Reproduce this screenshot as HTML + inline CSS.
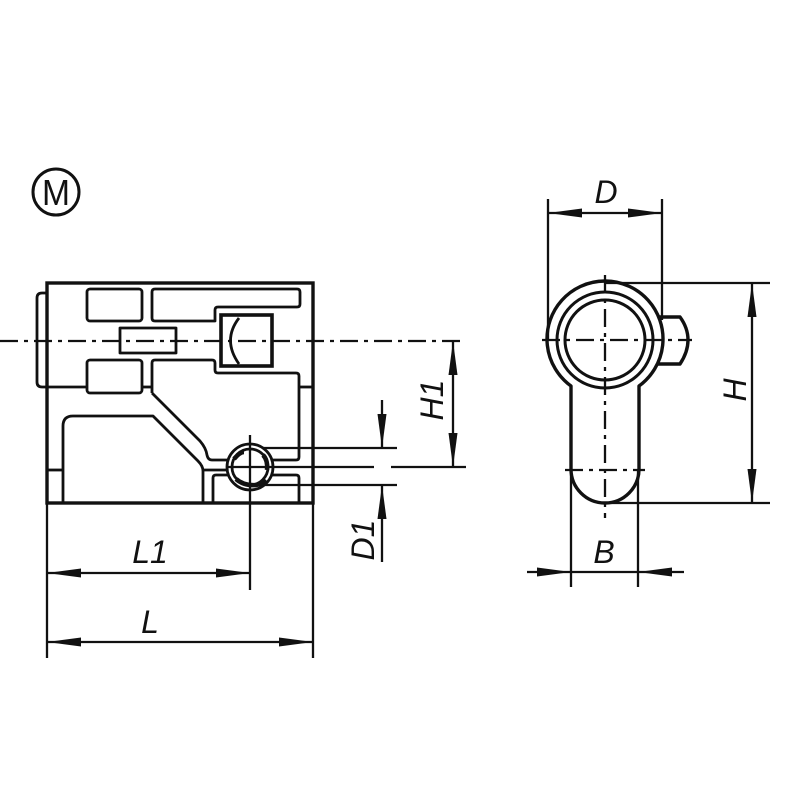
<!DOCTYPE html>
<html><head><style>
html,body{margin:0;padding:0;background:#fff;}
svg{display:block;}
text{font-family:"Liberation Sans",sans-serif;font-style:italic;fill:#111;}
</style></head><body>
<svg width="800" height="800" viewBox="0 0 800 800" xmlns="http://www.w3.org/2000/svg">
<defs>
<marker id="a" viewBox="0 0 34 10" refX="34" refY="5" markerWidth="34" markerHeight="10" markerUnits="userSpaceOnUse" orient="auto-start-reverse">
<path d="M0,0.5 L34,5 L0,9.5 Z" fill="#111"/>
</marker>
</defs>
<g fill="none" stroke="#111" stroke-width="3" stroke-linejoin="round">
<circle cx="56" cy="192" r="23"/>
</g>
<text x="56" y="205" font-size="36" text-anchor="middle" style="font-style:normal" textLength="28" lengthAdjust="spacingAndGlyphs">M</text>

<!-- LEFT VIEW -->
<g fill="none" stroke="#111" stroke-width="3.4">
<rect x="47" y="283" width="266" height="220"/>
</g>
<g fill="none" stroke="#111" stroke-width="2.8" stroke-linejoin="round">
<path d="M47,293 L42,293 Q37,293 37,298 L37,382 Q37,387 42,387 L47,387"/>
<line x1="47" y1="387" x2="87" y2="387"/>
<line x1="142" y1="387" x2="152" y2="387"/>
<line x1="299" y1="387" x2="313" y2="387"/>
<line x1="47" y1="470" x2="63" y2="470"/>
<rect x="87" y="289" width="55" height="32" rx="3"/>
<path d="M155,289 L297,289 Q300,289 300,292 L300,304 Q300,307 297,307 L218,307 Q215,307 215,310 L215,321 L155,321 Q152,321 152,318 L152,292 Q152,289 155,289 Z"/>
<rect x="120" y="328" width="56" height="25"/>
<rect x="87" y="360" width="55" height="33" rx="3"/>
<path d="M152,393 L152,363 Q152,360 155,360 L212,360 Q215,360 215,363 L215,370 Q215,373 218,373 L296,373 Q299,373 299,376 L299,457 Q299,460 296,460 L270,460"/>
<path d="M152,393 L156,397 L200,441 Q206,448 207,455 Q208,460 212,460 L229,460"/>
<path d="M63,503 L63,426 Q63,416 73,416 L153,416 L198,461 Q203,466 203,471 L203,503"/>
<path d="M203,470 L228,470"/>
<path d="M213,503 L213,478 Q213,475 216,475 L229,475"/>
<path d="M271,475 L296,475 Q299,475 299,478 L299,503"/>
<circle cx="250" cy="467" r="23" fill="#fff"/>
<circle cx="250" cy="467" r="18"/>
</g>
<g stroke="#111" stroke-width="4.5" fill="none">
<path d="M234,459 Q240,452 244,452" />
<path d="M236,479 Q244,486 256,485 Q262,484 266,480"/>
<path d="M263,455 Q268,460 267,470"/>
</g>
<rect x="221" y="315" width="51" height="51" fill="none" stroke="#111" stroke-width="3.6"/>
<path d="M239,318 Q222,340 239,364" fill="none" stroke="#111" stroke-width="2.8"/>
<g stroke="#111" stroke-width="2.3" fill="none">
<line x1="0" y1="341" x2="466" y2="341" stroke-dasharray="18,6,4,6"/>
<line x1="250" y1="435" x2="250" y2="590"/>
<line x1="228" y1="467" x2="374" y2="467"/>
<line x1="391" y1="467" x2="466" y2="467"/>
<line x1="262" y1="448" x2="397" y2="448"/>
<line x1="262" y1="485" x2="397" y2="485"/>
<line x1="47" y1="503" x2="47" y2="658"/>
<line x1="313" y1="503" x2="313" y2="658"/>
<line x1="47" y1="573" x2="250" y2="573" marker-start="url(#a)" marker-end="url(#a)"/>
<line x1="47" y1="642" x2="313" y2="642" marker-start="url(#a)" marker-end="url(#a)"/>
<line x1="453" y1="341" x2="453" y2="467" marker-start="url(#a)" marker-end="url(#a)"/>
<line x1="382" y1="400" x2="382" y2="448" marker-end="url(#a)"/>
<line x1="382" y1="562" x2="382" y2="485" marker-end="url(#a)"/>
</g>
<text x="150" y="563" font-size="32" text-anchor="middle">L1</text>
<text x="150" y="633" font-size="32" text-anchor="middle">L</text>
<text transform="translate(443,400) rotate(-90)" font-size="32" text-anchor="middle">H1</text>
<text transform="translate(374,540) rotate(-90)" font-size="32" text-anchor="middle">D1</text>

<!-- RIGHT VIEW -->
<g fill="none" stroke="#111" stroke-width="3.4" stroke-linejoin="round">
<path d="M658,317 L680,317 Q688,328 688,340 Q688,352 680,364 L658,364"/>
<path d="M571,386 A58,58 0 1 1 639,386 L639,469 A34,34 0 0 1 571,469 Z"/>
</g>
<g fill="none" stroke="#111" stroke-width="3">
<circle cx="605" cy="340" r="48"/>
<circle cx="605" cy="340" r="40"/>
</g>
<g stroke="#111" stroke-width="2.3" fill="none">
<line x1="542" y1="340" x2="692" y2="340" stroke-dasharray="18,6,4,6"/>
<line x1="605" y1="275" x2="605" y2="518" stroke-dasharray="18,6,4,6"/>
<line x1="565" y1="470" x2="645" y2="470" stroke-dasharray="18,6,4,6"/>
<line x1="548" y1="199" x2="548" y2="340"/>
<line x1="662" y1="199" x2="662" y2="320"/>
<line x1="548" y1="213" x2="662" y2="213" marker-start="url(#a)" marker-end="url(#a)"/>
<line x1="605" y1="283" x2="770" y2="283"/>
<line x1="605" y1="503" x2="770" y2="503"/>
<line x1="752" y1="283" x2="752" y2="503" marker-start="url(#a)" marker-end="url(#a)"/>
<line x1="571" y1="470" x2="571" y2="587"/>
<line x1="638" y1="470" x2="638" y2="587"/>
<line x1="527" y1="572" x2="571" y2="572" marker-end="url(#a)"/>
<line x1="684" y1="572" x2="638" y2="572" marker-end="url(#a)"/>
<line x1="571" y1="572" x2="638" y2="572"/>
</g>
<text x="606" y="203" font-size="32" text-anchor="middle">D</text>
<text x="604" y="563" font-size="32" text-anchor="middle">B</text>
<text transform="translate(746,390) rotate(-90)" font-size="32" text-anchor="middle">H</text>
</svg>
</body></html>
